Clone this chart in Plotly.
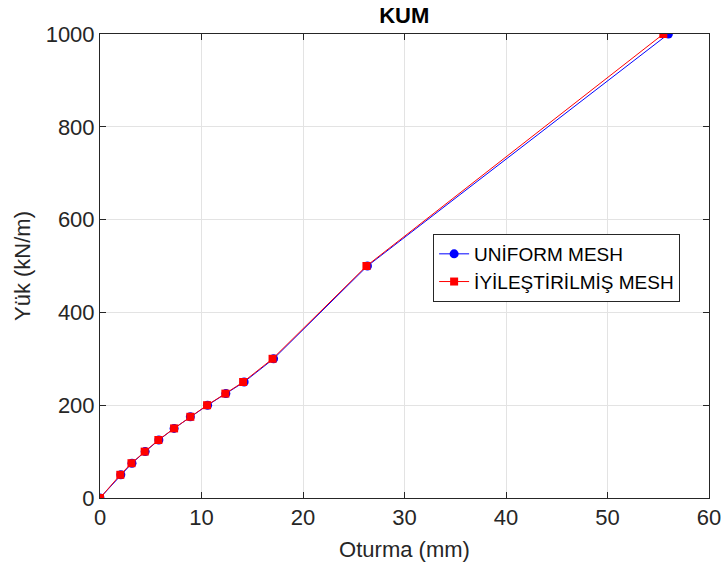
import plotly.graph_objects as go

yuk = [0, 50, 75, 100, 125, 150, 175, 200, 225, 250, 300, 500, 1000]
uniform_oturma = [0, 2.05, 3.15, 4.45, 5.8, 7.3, 8.9, 10.6, 12.4, 14.2, 17.1, 26.35, 56.0]
iyilestirilmis_oturma = [0, 2.0, 3.1, 4.4, 5.75, 7.3, 8.9, 10.55, 12.35, 14.1, 17.0, 26.25, 55.5]

FONT = "Liberation Sans, Arial, sans-serif"
AX = "#262626"

fig = go.Figure()
fig.add_trace(go.Scatter(
    x=uniform_oturma, y=yuk, mode="lines+markers", name="UNİFORM MESH",
    line=dict(color="#0000ff", width=1),
    marker=dict(symbol="circle", size=9, color="#0000ff"),
))
fig.add_trace(go.Scatter(
    x=iyilestirilmis_oturma, y=yuk, mode="lines+markers", name="İYİLEŞTİRİLMİŞ MESH",
    line=dict(color="#ff0000", width=1),
    marker=dict(symbol="square", size=8, color="#ff0000"),
))

axis_common = dict(
    showline=True, linecolor=AX, linewidth=1, mirror="ticks",
    ticks="inside", ticklen=6, tickcolor=AX, tickwidth=1,
    showgrid=True, gridcolor="#e3e3e3", gridwidth=1, zeroline=False,
    tickfont=dict(family=FONT, size=22, color=AX),
    automargin=False,
)

fig.update_layout(
    width=725, height=572,
    margin=dict(l=100, r=16, t=34, b=74),
    paper_bgcolor="white", plot_bgcolor="white",
    title=dict(text="<b>KUM</b>", x=0.5575, xanchor="center", y=0.974, yanchor="middle",
               font=dict(family=FONT, size=22, color="black")),
    xaxis=dict(range=[0, 60], dtick=10,
               title=dict(text="Oturma (mm)", font=dict(family=FONT, size=22, color=AX), standoff=12),
               **axis_common),
    yaxis=dict(range=[0, 1000], dtick=200,
               title=dict(text="Yük (kN/m)", font=dict(family=FONT, size=22, color=AX), standoff=8),
               **axis_common),
    legend=dict(x=0.547, y=0.569, xanchor="left", yanchor="top",
                bgcolor="white", bordercolor=AX, borderwidth=1,
                font=dict(family=FONT, size=19, color="black"),
                tracegroupgap=0, itemwidth=30),
    showlegend=True,
)

fig.write_html("out.html")
